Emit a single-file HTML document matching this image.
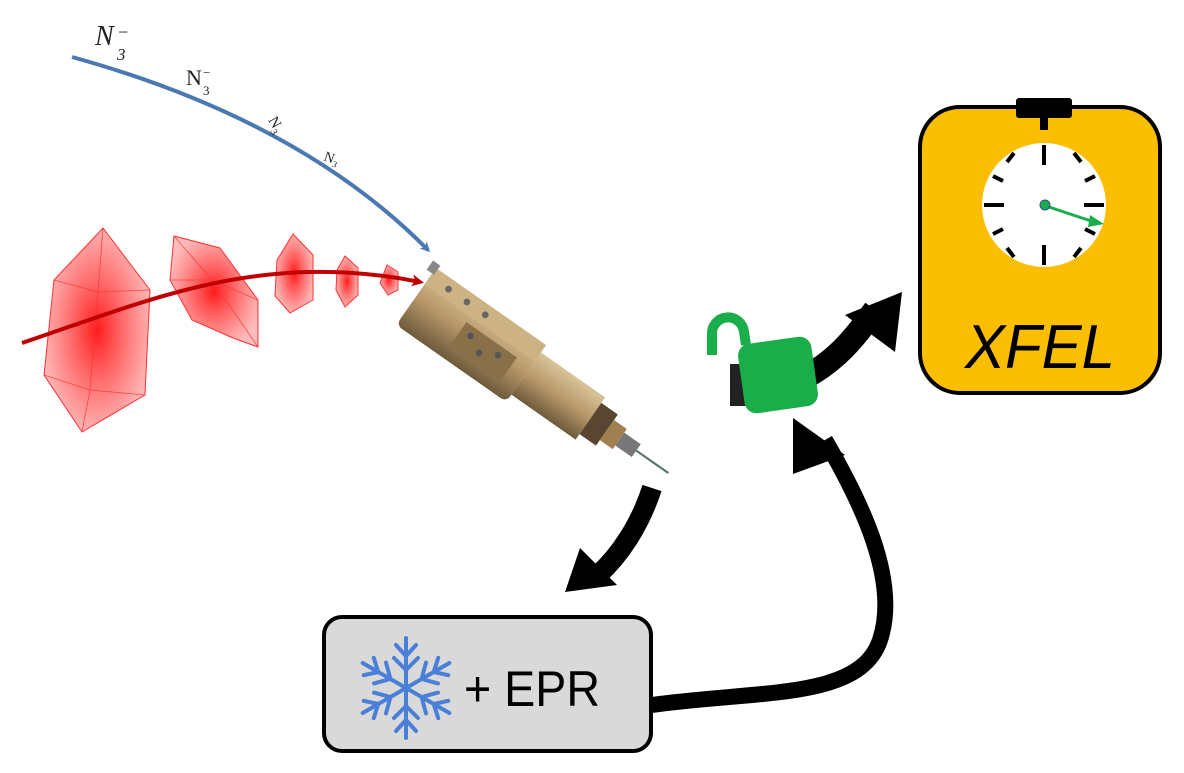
<!DOCTYPE html>
<html><head><meta charset="utf-8"><style>
html,body{margin:0;padding:0;background:#fff;}
svg{display:block;}
</style></head><body>
<svg width="1184" height="773" viewBox="0 0 1184 773" xmlns="http://www.w3.org/2000/svg">
<defs>
<radialGradient id="rg" cx="50%" cy="50%" r="55%">
<stop offset="0" stop-color="#ff1010" stop-opacity="0.95"/>
<stop offset="1" stop-color="#ff4040" stop-opacity="0.35"/>
</radialGradient>
<linearGradient id="brass" x1="0" y1="0" x2="0" y2="1">
<stop offset="0" stop-color="#d9c49a"/><stop offset="0.5" stop-color="#b8986a"/><stop offset="1" stop-color="#6e5a3c"/>
</linearGradient>
<marker id="ab" markerWidth="10" markerHeight="10" refX="7" refY="5" orient="auto" markerUnits="userSpaceOnUse"><path d="M0,0 L10,5 L0,10 L3,5z" fill="#4a78b0"/></marker>
<marker id="ar" markerWidth="12" markerHeight="12" refX="8" refY="6" orient="auto" markerUnits="userSpaceOnUse"><path d="M0,0 L12,6 L0,12 L3,6z" fill="#c00000"/></marker>
</defs>

<path d="M72,57 Q300,120 428,250" fill="none" stroke="#4a78b0" stroke-width="4" marker-end="url(#ab)"/>
<g font-family="Liberation Serif, serif" fill="#222">
<text x="95" y="45" font-size="28" font-style="italic">N</text><text x="117" y="60" font-size="17" font-style="italic">3</text><text x="118" y="38" font-size="18">−</text>
<text x="186" y="85" font-size="22">N</text><text x="203" y="95" font-size="13">3</text><text x="203" y="77" font-size="13">−</text>
<text transform="translate(268,120) rotate(60)" font-size="15">N<tspan font-size="10" dy="4">3</tspan></text>
<text transform="translate(323,160) rotate(20)" font-size="14">N<tspan font-size="9" dy="3">3</tspan></text>
</g>

<g stroke="#ff3030" stroke-width="1" fill="url(#rg)">
<polygon points="103,228 150,290 145,395 82,432 44,375 54,280"/>
<polygon points="174,236 220,248 258,300 258,347 233,338 192,320 170,280"/>
<polygon points="293,234 313,255 313,300 290,313 275,296 277,260"/>
<polygon points="345,256 358,268 358,295 345,307 336,290 337,270"/>
<polygon points="387,265 398,272 398,290 388,295 380,283"/>
</g>
<g stroke="#ff3030" stroke-width="0.8" fill="none" opacity="0.8">
<path d="M103,228 L98,292 L90,390 L82,432 M54,280 L98,292 L150,290 M44,375 L90,390 L145,395"/>
<path d="M174,236 L212,280 L258,347 M170,280 L212,280 L258,300"/>
</g>
<path d="M22,343 C150,300 260,250 420,282" fill="none" stroke="#c00000" stroke-width="4" marker-end="url(#ar)"/>

<g transform="translate(436,268) rotate(35) scale(1.12)">
<rect x="0" y="0" width="120" height="62" rx="6" fill="url(#brass)"/>
<rect x="0" y="0" width="120" height="18" fill="#cdb284"/>
<rect x="120" y="8" width="70" height="46" fill="url(#brass)"/>
<rect x="50" y="24" width="55" height="26" fill="#8a7048"/>
<circle cx="60" cy="32" r="3" fill="#555"/><circle cx="75" cy="40" r="3" fill="#555"/><circle cx="90" cy="32" r="3" fill="#555"/>
<circle cx="20" cy="9" r="3" fill="#666"/><circle cx="40" cy="9" r="3" fill="#666"/><circle cx="60" cy="9" r="3" fill="#666"/>
<rect x="190" y="14" width="18" height="34" fill="#5a4630"/>
<rect x="208" y="20" width="14" height="22" fill="#a08050"/>
<rect x="222" y="24" width="18" height="14" fill="#777"/>
<line x1="240" y1="31" x2="275" y2="31" stroke="#5a7a70" stroke-width="2"/>
<rect x="-6" y="-4" width="8" height="10" fill="#888"/>
</g>

<path d="M652,488 C640,525 620,555 598,575" fill="none" stroke="#000" stroke-width="20"/>
<polygon points="565,592 580,548 617,585" fill="#000"/>

<path d="M652,705 C760,690 860,700 880,640 C900,580 860,500 825,440" fill="none" stroke="#000" stroke-width="16"/>
<polygon points="793,418 845,455 793,474" fill="#000"/>

<path d="M800,380 C840,360 860,330 875,310" fill="none" stroke="#000" stroke-width="24"/>
<polygon points="902,292 895,352 845,315" fill="#000"/>
<rect x="730" y="364" width="20" height="42" fill="#222"/>

<path d="M712,355 L712,335 A16,16 0 0 1 744,332 L746,345" fill="none" stroke="#1aae4a" stroke-width="10"/>
<rect x="741" y="340" width="74" height="70" rx="12" fill="#1aae4a" transform="rotate(-8 778 375)"/>

<rect x="920" y="107" width="240" height="286" rx="40" fill="#fbbe00" stroke="#000" stroke-width="4"/>
<rect x="1016" y="98" width="56" height="20" rx="3" fill="#000"/>
<rect x="1040" y="118" width="8" height="12" fill="#000"/>
<circle cx="1044" cy="205" r="62" fill="#fff"/>
<g stroke="#000" stroke-width="4">
<line x1="1044" y1="145" x2="1044" y2="165"/><line x1="1044" y1="245" x2="1044" y2="265"/>
<line x1="984" y1="205" x2="1004" y2="205"/><line x1="1084" y1="205" x2="1104" y2="205"/>
<line x1="1074" y1="153" x2="1081" y2="162"/><line x1="1014" y1="153" x2="1007" y2="162"/>
<line x1="1074" y1="257" x2="1081" y2="248"/><line x1="1014" y1="257" x2="1007" y2="248"/>
<line x1="993" y1="176" x2="1003" y2="181"/><line x1="1095" y1="176" x2="1085" y2="181"/>
<line x1="993" y1="234" x2="1003" y2="229"/><line x1="1095" y1="234" x2="1085" y2="229"/>
</g>
<line x1="1046" y1="206" x2="1094" y2="222" stroke="#1aae4a" stroke-width="3"/>
<polygon points="1104,224 1090,215 1088,227" fill="#1aae4a"/>
<circle cx="1045" cy="205" r="5" fill="#1aae4a" stroke="#2a5090" stroke-width="1"/>
<text x="1040" y="368" font-family="Liberation Sans, sans-serif" font-style="italic" font-size="62" text-anchor="middle" fill="#000" textLength="150" lengthAdjust="spacingAndGlyphs">XFEL</text>

<rect x="324" y="617" width="327" height="134" rx="18" fill="#d9d9d9" stroke="#000" stroke-width="4"/>
<g stroke="#4a7fd8" stroke-width="4" fill="none" stroke-linecap="round" transform="translate(406,688)">
<g id="arm"><line x1="0" y1="0" x2="0" y2="-50"/><line x1="0" y1="-18" x2="-12" y2="-30"/><line x1="0" y1="-18" x2="12" y2="-30"/><line x1="0" y1="-32" x2="-10" y2="-43"/><line x1="0" y1="-32" x2="10" y2="-43"/></g>
<use href="#arm" transform="rotate(60)"/><use href="#arm" transform="rotate(120)"/><use href="#arm" transform="rotate(180)"/><use href="#arm" transform="rotate(240)"/><use href="#arm" transform="rotate(300)"/>
</g>
<text x="464" y="706" font-family="Liberation Sans, sans-serif" font-size="50" fill="#000" textLength="136" lengthAdjust="spacingAndGlyphs">+ EPR</text>
</svg>
</body></html>
